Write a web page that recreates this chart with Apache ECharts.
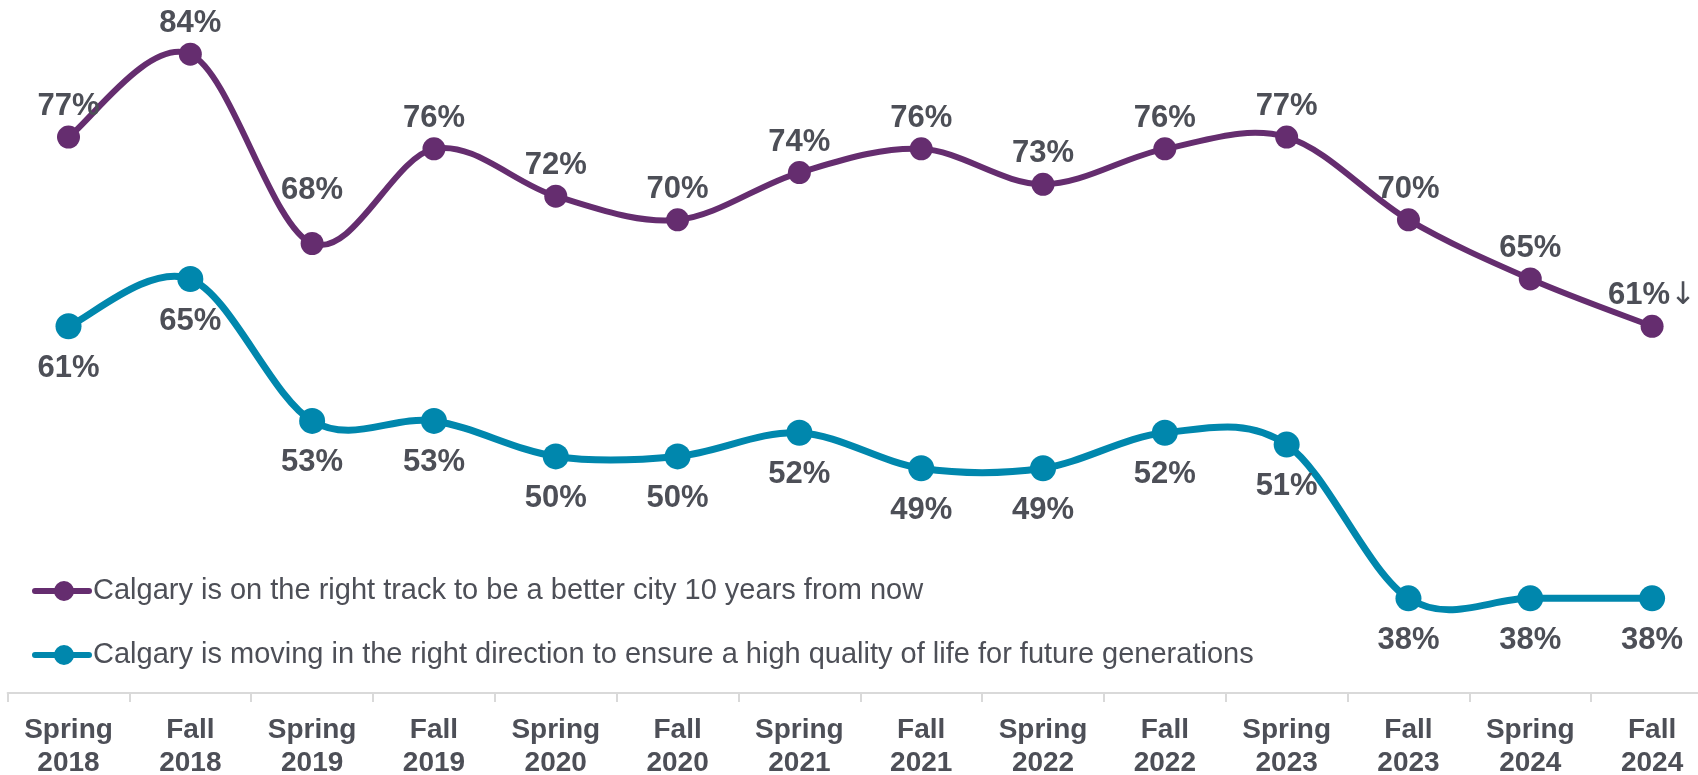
<!DOCTYPE html>
<html>
<head>
<meta charset="utf-8">
<script src="https://cdn.jsdelivr.net/npm/echarts@6/dist/echarts.min.js"></script>
<style>
html,body{margin:0;padding:0;background:#fff;overflow:hidden;width:1698px;height:775px;}
#chart{width:1713px;height:775px;}
</style>
</head>
<body>
<div id="chart"></div>
<script>
const categories = ['Spring\n2018','Fall\n2018','Spring\n2019','Fall\n2019','Spring\n2020','Fall\n2020','Spring\n2021','Fall\n2021','Spring\n2022','Fall\n2022','Spring\n2023','Fall\n2023','Spring\n2024','Fall\n2024'];
const rightTrackName = 'Calgary is on the right track to be a better city 10 years from now';
const rightTrack = [77, 84, 68, 76, 72, 70, 74, 76, 73, 76, 77, 70, 65, 61];
const rightDirectionName = 'Calgary is moving in the right direction to ensure a high quality of life for future generations';
const rightDirection = [61, 65, 53, 53, 50, 50, 52, 49, 49, 52, 51, 38, 38, 38];

const FONT = '"Liberation Sans", Arial, Helvetica, sans-serif';
const TEXT = '#4d4f57';
const PURPLE = '#652d6f';
const TEAL = '#0087ad';

const lastIdx = rightTrack.length - 1;
const purpleData = rightTrack.map((v, i) => {
  const item = { value: v };
  if (i === 2) item.label = { offset: [0, -23] };
  return item;
});

// Smooth (Catmull-Rom style) curve through the points, positioned by the chart's own axes
function curveSeries(values, color, width) {
  const n = values.length;
  const cl = k => Math.max(0, Math.min(n - 1, k));
  return {
    type: 'custom',
    data: values.map((v, i) => [i, v]),
    encode: { x: 0, y: 1 },
    silent: true,
    z: 2,
    renderItem: (params, api) => {
      const i = params.dataIndex;
      if (i === 0) return null;
      const P = k => api.coord([cl(k), values[cl(k)]]);
      const p0 = P(i - 2), p1 = P(i - 1), p2 = P(i), p3 = P(i + 1);
      const t = 1 / 6;
      return {
        type: 'bezierCurve',
        shape: {
          x1: p1[0], y1: p1[1], x2: p2[0], y2: p2[1],
          cpx1: p1[0] + (p2[0] - p0[0]) * t, cpy1: p1[1] + (p2[1] - p0[1]) * t,
          cpx2: p2[0] - (p3[0] - p1[0]) * t, cpy2: p2[1] - (p3[1] - p1[1]) * t
        },
        style: { stroke: color, lineWidth: width, fill: 'none', lineCap: 'round' }
      };
    }
  };
}

const legendIcon = 'path://M3,7 h54 a3,3 0 0 1 0,6 h-54 a3,3 0 0 1 0,-6 z M42,10 a10,10 0 1 1 -20,0 a10,10 0 1 1 20,0 z';

const chart = echarts.init(document.getElementById('chart'), null, { renderer: 'canvas' });
chart.setOption({
  animation: false,
  backgroundColor: '#ffffff',
  grid: { left: 7.6, right: 0, top: 42.4, bottom: 82, containLabel: false, outerBoundsMode: 'none' },
  legend: {
    orient: 'vertical',
    left: 27,
    top: 571,
    itemWidth: 60,
    itemHeight: 20,
    itemGap: 34,
    icon: legendIcon,
    textStyle: { fontFamily: FONT, fontSize: 29, color: TEXT, lineHeight: 30, padding: [0, 0, 0, -4] },
    data: [rightTrackName, rightDirectionName]
  },
  xAxis: {
    type: 'category',
    data: categories,
    boundaryGap: true,
    axisLine: { show: true, lineStyle: { color: '#d9d9d9', width: 2 } },
    axisTick: { show: true, length: 9, lineStyle: { color: '#d9d9d9', width: 2 } },
    axisLabel: {
      interval: 0, margin: 21,
      fontFamily: FONT, fontSize: 28, fontWeight: 'bold', color: TEXT, lineHeight: 33
    },
    splitLine: { show: false }
  },
  yAxis: {
    type: 'value', min: 30, max: 85,
    show: false, splitLine: { show: false }
  },
  series: [
    curveSeries(rightTrack, PURPLE, 6),
    curveSeries(rightDirection, TEAL, 7),
    {
      name: rightTrackName,
      type: 'line',
      data: purpleData,
      smooth: false,
      symbol: 'circle',
      symbolSize: 23,
      color: PURPLE,
      lineStyle: { color: PURPLE, width: 6, opacity: 0 },
      itemStyle: { color: PURPLE },
      label: {
        show: true, position: 'top', distance: 3.5,
        fontFamily: FONT, fontSize: 31, fontWeight: 'bold', color: TEXT, lineHeight: 31,
        formatter: p => p.dataIndex === lastIdx ? p.value + '%{a|\u2193}' : p.value + '%',
        rich: { a: { fontFamily: '"DejaVu Sans", sans-serif', fontSize: 31, fontWeight: 'normal', color: TEXT, lineHeight: 31 } }
      },
      emphasis: { disabled: true },
      z: 3
    },
    {
      name: rightDirectionName,
      type: 'line',
      data: rightDirection,
      smooth: false,
      symbol: 'circle',
      symbolSize: 26,
      color: TEAL,
      lineStyle: { color: TEAL, width: 7, opacity: 0 },
      itemStyle: { color: TEAL },
      label: {
        show: true, position: 'bottom', distance: 13.5,
        fontFamily: FONT, fontSize: 31, fontWeight: 'bold', color: TEXT, lineHeight: 31,
        formatter: p => p.value + '%'
      },
      emphasis: { disabled: true },
      z: 3
    }
  ]
});
</script>
</body>
</html>
